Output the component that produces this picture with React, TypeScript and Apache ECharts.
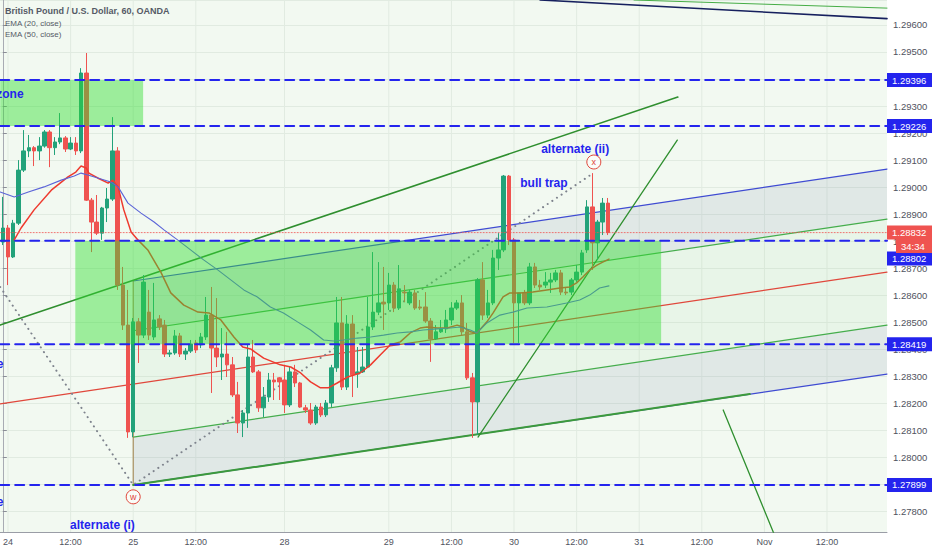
import { useEffect, useRef } from 'react';
import * as echarts from 'echarts';

// hourly slots on the time axis (candles + empty future space)
const slotCount = 170;
const priceTop = 1.29692;
const priceBottom = 1.27725;

// GBPUSD 60m candles: [open, close, low, high]
const candles = [
    [1.28797, 1.28849, 1.28786, 1.28964], [1.28849, 1.28742, 1.28638, 1.2886], [1.28742, 1.28867, 1.28738, 1.28879],
    [1.28867, 1.29063, 1.2886, 1.291], [1.29063, 1.29134, 1.29056, 1.29211], [1.29134, 1.29146, 1.29111, 1.29193],
    [1.29146, 1.29134, 1.29078, 1.29152], [1.29134, 1.29152, 1.291, 1.29185], [1.29152, 1.29204, 1.29146, 1.29211],
    [1.29204, 1.29146, 1.29074, 1.29211], [1.29146, 1.29167, 1.29119, 1.29185], [1.29167, 1.29182, 1.29159, 1.29274],
    [1.29182, 1.29141, 1.2913, 1.29189], [1.29141, 1.29163, 1.29137, 1.29185], [1.29163, 1.29134, 1.29119, 1.29185],
    [1.29134, 1.29422, 1.29126, 1.2944], [1.29422, 1.28952, 1.28949, 1.29496], [1.28952, 1.28871, 1.2876, 1.2896],
    [1.28871, 1.2883, 1.28823, 1.28971], [1.2883, 1.28923, 1.28805, 1.28927], [1.28923, 1.28956, 1.28871, 1.28997],
    [1.28956, 1.29134, 1.28949, 1.29259], [1.29134, 1.28638, 1.2862, 1.29148], [1.28638, 1.2849, 1.28472, 1.28705],
    [1.2849, 1.28095, 1.28073, 1.2862], [1.28095, 1.28502, 1.28076, 1.28516], [1.28502, 1.28453, 1.2835, 1.28516],
    [1.28453, 1.28649, 1.28442, 1.28675], [1.28538, 1.28453, 1.28435, 1.2862], [1.28446, 1.28509, 1.28435, 1.28646],
    [1.28513, 1.28483, 1.28472, 1.28527], [1.2849, 1.28383, 1.28372, 1.28509], [1.28383, 1.28387, 1.28372, 1.28398],
    [1.28387, 1.2845, 1.2838, 1.28472], [1.2845, 1.28383, 1.28372, 1.28461], [1.28383, 1.28394, 1.28361, 1.28405],
    [1.28394, 1.2842, 1.28387, 1.28435], [1.28424, 1.28398, 1.28387, 1.28435], [1.28417, 1.28446, 1.28405, 1.28461],
    [1.28446, 1.28527, 1.28435, 1.28594], [1.28527, 1.28405, 1.28239, 1.28631], [1.28405, 1.28372, 1.28335, 1.2859],
    [1.28372, 1.28383, 1.28287, 1.28479], [1.28383, 1.28343, 1.28298, 1.28465], [1.28343, 1.28232, 1.28224, 1.28372],
    [1.28232, 1.28128, 1.28091, 1.2828], [1.28128, 1.28165, 1.28076, 1.28176], [1.28165, 1.28372, 1.2811, 1.28417],
    [1.28372, 1.28317, 1.28313, 1.28435], [1.28317, 1.28184, 1.28169, 1.28324], [1.28184, 1.28224, 1.2815, 1.28261],
    [1.28224, 1.28287, 1.28206, 1.28313], [1.28287, 1.2828, 1.28213, 1.28313], [1.28295, 1.2828, 1.28213, 1.28298],
    [1.28287, 1.28195, 1.28165, 1.28343], [1.28195, 1.28317, 1.28187, 1.28335], [1.28317, 1.28276, 1.28261, 1.28343],
    [1.28276, 1.28187, 1.28184, 1.2828], [1.28184, 1.28176, 1.28165, 1.28195], [1.28176, 1.28128, 1.28121, 1.28202],
    [1.28128, 1.28187, 1.28121, 1.28195], [1.28187, 1.28158, 1.2815, 1.28202], [1.28158, 1.28202, 1.2815, 1.28213],
    [1.28202, 1.28332, 1.28187, 1.28343], [1.28332, 1.28498, 1.28317, 1.28594], [1.28498, 1.28261, 1.2825, 1.28594],
    [1.28261, 1.28494, 1.2825, 1.28527], [1.28494, 1.28306, 1.28224, 1.28527], [1.28309, 1.28317, 1.28258, 1.28409],
    [1.28317, 1.28335, 1.28313, 1.28409], [1.28335, 1.28483, 1.28332, 1.28594], [1.28483, 1.28538, 1.28472, 1.2876],
    [1.28538, 1.28572, 1.28527, 1.28723], [1.28575, 1.28568, 1.28472, 1.28705], [1.28572, 1.28638, 1.28546, 1.28683],
    [1.28638, 1.28553, 1.28538, 1.28649], [1.28553, 1.28624, 1.28546, 1.28712], [1.28612, 1.28609, 1.28575, 1.28638],
    [1.28572, 1.28612, 1.28564, 1.2862], [1.28609, 1.28553, 1.28546, 1.2862], [1.28557, 1.28553, 1.28546, 1.28583],
    [1.28557, 1.28505, 1.28498, 1.28612], [1.28505, 1.28439, 1.28354, 1.28516], [1.28439, 1.28465, 1.28435, 1.2849],
    [1.28465, 1.28476, 1.28461, 1.28509], [1.28476, 1.28509, 1.28461, 1.28546], [1.28509, 1.28553, 1.2849, 1.28575],
    [1.28553, 1.28572, 1.28546, 1.28583], [1.28572, 1.28465, 1.28453, 1.28601], [1.28465, 1.28295, 1.28287, 1.28498],
    [1.28295, 1.28206, 1.28073, 1.28313], [1.28206, 1.28657, 1.28084, 1.28664], [1.28657, 1.28527, 1.28509, 1.28723],
    [1.28527, 1.28572, 1.28516, 1.2862], [1.28572, 1.28738, 1.28564, 1.28768], [1.28738, 1.28768, 1.28694, 1.2883],
    [1.28768, 1.29041, 1.2876, 1.29045], [1.29041, 1.28805, 1.28786, 1.29045], [1.28805, 1.28572, 1.28424, 1.28812],
    [1.28572, 1.28609, 1.28424, 1.28609], [1.28609, 1.28572, 1.28564, 1.2862], [1.28572, 1.28705, 1.28564, 1.2872],
    [1.28705, 1.28638, 1.28627, 1.2872], [1.28638, 1.28631, 1.2862, 1.28657], [1.28638, 1.28649, 1.28627, 1.28686],
    [1.28649, 1.28657, 1.28609, 1.28683], [1.28657, 1.28683, 1.28649, 1.28694], [1.28683, 1.28612, 1.28601, 1.28694],
    [1.28612, 1.28609, 1.28601, 1.28631], [1.28612, 1.28657, 1.28601, 1.28664], [1.28657, 1.28686, 1.28649, 1.28712],
    [1.28686, 1.28757, 1.28675, 1.28768], [1.28768, 1.28927, 1.28757, 1.28952], [1.28927, 1.28794, 1.28694, 1.29052],
    [1.28794, 1.28871, 1.28731, 1.28879], [1.28871, 1.28941, 1.28823, 1.2896], [1.28941, 1.28832, 1.28823, 1.2896],
];

const tickIndex = [1, 13, 25, 37, 54, 74, 86, 98, 110, 122, 134, 146, 158];
const tickText = ['24', '12:00', '25', '12:00', '28', '29', '12:00', '30', '12:00', '31', '12:00', 'Nov', '12:00'];

// [slot, price]
const ema20 = [
    [2.2, 1.28805], [3.5, 1.28849], [6, 1.28916], [9.3, 1.28989], [12.5, 1.29038], [14, 1.29056], [15, 1.29078],
    [16, 1.29071], [16.5, 1.29052], [18.2, 1.29034], [20.2, 1.29015], [21.1, 1.29026], [22.1, 1.29001], [23.2, 1.28916],
    [24.6, 1.28834], [25.9, 1.28805], [27.8, 1.28768], [29.7, 1.28705], [30.3, 1.28686], [32.2, 1.28609], [34.7, 1.28564],
    [37.4, 1.28538], [39.5, 1.28535], [41.8, 1.28509], [44.3, 1.28446], [46, 1.28409], [47.5, 1.28402], [50, 1.28368],
    [53.2, 1.28343], [55.2, 1.28335], [57.1, 1.28313], [59, 1.2828], [60.9, 1.28258], [62.4, 1.28258], [64.1, 1.28276],
    [66.1, 1.28298], [68.5, 1.28313], [70.5, 1.28343], [72.4, 1.2838], [74.3, 1.28417], [76.2, 1.28428], [78.1, 1.28461],
    [80, 1.28479], [81.3, 1.28483], [83.3, 1.28479], [85.2, 1.28479], [87.1, 1.2849], [88.2, 1.28483], [89.6, 1.28465],
    [90.9, 1.28461], [92.8, 1.28502], [94, 1.28535], [95.9, 1.28594], [97.2, 1.28609], [99.1, 1.28609], [101.6, 1.28612],
    [104.3, 1.2862], [106.8, 1.28627], [108.7, 1.28631], [110, 1.28646], [111.2, 1.28668], [112.5, 1.28694],
    [113.9, 1.28712], [115, 1.28723], [116.2, 1.28734],
];
const ema50 = [
    [-0.5, 1.28982], [2.2, 1.28964], [4.9, 1.28982], [7.9, 1.29001], [11.2, 1.29026], [13.7, 1.29041], [15, 1.29052],
    [16.3, 1.29045], [18.2, 1.29034], [20.7, 1.29019], [22.1, 1.29001], [24, 1.28941], [26.5, 1.28904], [29, 1.28871],
    [30.9, 1.28842], [33.5, 1.28805], [36, 1.28768], [38.5, 1.28731], [41.2, 1.28694], [43.7, 1.28657], [46.2, 1.2862],
    [48.8, 1.28594], [51.3, 1.28557], [53.8, 1.28535], [56.5, 1.28502], [59, 1.28472], [61.5, 1.28435], [63.4, 1.28431],
    [65.3, 1.28435], [68, 1.28442], [70.5, 1.28446], [73, 1.28453], [75.6, 1.28461], [78.1, 1.28465], [80.6, 1.28472],
    [83.3, 1.28476], [85.8, 1.28479], [87.7, 1.28483], [89.6, 1.28472], [90.9, 1.28461], [92.8, 1.28498], [95.3, 1.28527],
    [97.8, 1.28538], [100.5, 1.28553], [104.3, 1.28557], [108.1, 1.28572], [110.6, 1.28583], [112.5, 1.28601],
    [114.4, 1.28627], [116.2, 1.28635],
];

const levels = [1.29396, 1.29226, 1.28802, 1.28419, 1.27899];
const lastPrice = 1.28832;
const countdown = '34:34';

// parallel channel, drawn from the w low to the right edge
const channelEnds = [25, 169.5];
const channelTop = [1.28653, 1.29067];
const channelUpper = [1.28469, 1.28882];
const channelMedian = [1.28199, 1.28686]; // median extends to the left edge
const channelLower = [1.28076, 1.2849];
const channelBottom = [1.27899, 1.28309];

// zones: [slotFrom, slotTo, priceLow, priceHigh]
const upperZone = [-0.5, 26.9, 1.29226, 1.29396];
const lowerZone = [13.9, 126.2, 1.28419, 1.28802];

const risingLine = [[-0.5, 1.2849], [129.4, 1.29333]];
const steepLine = [[91.1, 1.28076], [129.3, 1.29174]];
const supportLine = [[25, 1.27899], [143.2, 1.28235]];
const fallingLine = [[138.1, 1.28176], [149.5, 1.2764]];
const topNavyLine = [[103, 1.29692], [169.5, 1.29623]];
const topGreenLine = [[121, 1.29692], [169.5, 1.29662]];
const waveDots = [[-0.5, 1.28631], [25, 1.27899], [113.2, 1.29052]];

const notes = ['zone', 'zone', 'zone', 'bull trap', 'alternate (ii)', 'alternate (i)'];
const noteAlign = ['left', 'right', 'right', 'left', 'left', 'left'];
const noteSlot = [-1.26, 0.1, 0.1, 99.2, 103.2, 12.9];
const notePrice = [1.29344, 1.28346, 1.27836, 1.29015, 1.29141, 1.27751];

const waveMarks = ['x', 'w'];
const waveSlot = [113.3, 25];
const wavePrice = [1.29093, 1.27855];

const UP = '#22a27a';
const DOWN = '#ef5350';
const BLUE = '#2424ee';
const FONT = '"Liberation Sans", Arial, sans-serif';

const lineSeries = (data: number[][], color: string, width: number, z: number, type: any = 'solid') => ({
    type: 'line',
    xAxisIndex: 1,
    yAxisIndex: 0,
    data,
    symbol: 'none',
    silent: true,
    animation: false,
    clip: true,
    z,
    lineStyle: { color, width, type, cap: 'round' },
});

const bandSeries = (upper: number[], lower: number[], fill: string, z: number) => ({
    type: 'custom',
    xAxisIndex: 1,
    yAxisIndex: 0,
    silent: true,
    z,
    data: [[channelEnds[0], upper[0]]],
    renderItem: (_params: any, api: any) => ({
        type: 'polygon',
        shape: {
            points: [
                api.coord([channelEnds[0], upper[0]]),
                api.coord([channelEnds[1], upper[1]]),
                api.coord([channelEnds[1], lower[1]]),
                api.coord([channelEnds[0], lower[0]]),
            ],
        },
        style: { fill },
    }),
});

const zoneSeries = (zone: number[]) => ({
    type: 'custom',
    xAxisIndex: 1,
    yAxisIndex: 0,
    silent: true,
    z: 6,
    data: [zone],
    renderItem: (_params: any, api: any) => {
        const a = api.coord([api.value(0), api.value(3)]);
        const b = api.coord([api.value(1), api.value(2)]);
        return {
            type: 'rect',
            shape: { x: a[0], y: a[1], width: b[0] - a[0], height: b[1] - a[1] },
            style: { fill: 'rgba(50, 222, 50, 0.45)' },
        };
    },
});

const App: React.FC = () => {
    const chartRef = useRef<HTMLDivElement>(null);

    useEffect(() => {
        if (!chartRef.current) return;
        const chart = echarts.init(chartRef.current, null, { renderer: 'svg' });

        const median = [[-0.5, channelMedian[0]], [channelEnds[1], channelMedian[1]]];
        const edge = (p: number[]) => [[channelEnds[0], p[0]], [channelEnds[1], p[1]]];

        const option: any = {
            animation: false,
            backgroundColor: '#ffffff',
            textStyle: { fontFamily: FONT },
            grid: {
                left: 0, right: 45, top: 0, bottom: 18,
                show: true, backgroundColor: '#f2f9f1', borderWidth: 0,
            },
            xAxis: [
                {
                    type: 'category',
                    data: Array.from({ length: slotCount }, (_, i) => String(i)),
                    boundaryGap: true,
                    axisLine: { lineStyle: { color: '#9a9da6' } },
                    axisTick: { show: false },
                    splitLine: { show: false },
                    axisLabel: {
                        interval: (index: number) => tickIndex.includes(index),
                        formatter: (_v: string, index: number) => tickText[tickIndex.indexOf(index)] ?? '',
                        color: '#50535e',
                        fontSize: 9,
                        margin: 5,
                        fontFamily: FONT,
                    },
                },
                { type: 'value', min: -0.5, max: slotCount - 0.5, show: false },
            ],
            yAxis: {
                type: 'value',
                position: 'right',
                min: priceBottom,
                max: priceTop,
                splitNumber: 20,
                scale: true,
                axisLine: { show: true, lineStyle: { color: '#a8abb3' } },
                axisTick: { show: true, length: 4, lineStyle: { color: '#8a8d96' } },
                splitLine: { show: true, lineStyle: { color: '#e1ebe1' } },
                axisLabel: {
                    formatter: (v: number) => v.toFixed(5),
                    color: '#50535e',
                    fontSize: 9.5,
                    margin: 6,
                    showMinLabel: false,
                    showMaxLabel: false,
                    fontFamily: FONT,
                },
            },
            series: [
                {
                    type: 'custom',
                    xAxisIndex: 1,
                    yAxisIndex: 0,
                    silent: true,
                    z: 1,
                    data: tickIndex.map((i) => [i, priceTop]),
                    renderItem: (_p: any, api: any) => {
                        const a = api.coord([api.value(0), priceTop]);
                        const b = api.coord([api.value(0), priceBottom]);
                        return {
                            type: 'line',
                            shape: { x1: a[0], y1: a[1], x2: b[0], y2: b[1] },
                            style: { stroke: '#e1ebe1', lineWidth: 1 },
                        };
                    },
                },
                bandSeries(channelTop, channelUpper, 'rgba(105, 120, 165, 0.13)', 1),
                bandSeries(channelUpper, channelLower, 'rgba(120, 200, 110, 0.07)', 1),
                bandSeries(channelLower, channelBottom, 'rgba(105, 120, 165, 0.13)', 1),
                lineSeries(edge(channelTop), '#3f4bd2', 1.2, 2),
                lineSeries(edge(channelUpper), '#45ad4c', 1.2, 2),
                lineSeries(median, '#e0473b', 1.2, 2),
                lineSeries(edge(channelLower), '#45ad4c', 1.2, 2),
                lineSeries(edge(channelBottom), '#3f4bd2', 1.2, 2),
                lineSeries([[channelEnds[0], channelTop[0]], [channelEnds[0], channelBottom[0]]], '#a08048', 1, 2),
                lineSeries(supportLine, '#3c9a3c', 2, 2),
                lineSeries(risingLine, '#2f8f2f', 1.6, 2),
                lineSeries(steepLine, '#2f8f2f', 1.3, 2),
                lineSeries(fallingLine, '#2f8f2f', 1.3, 2),
                lineSeries(topNavyLine, '#16205e', 1.6, 2),
                lineSeries(topGreenLine, '#46ad46', 1, 2),
                lineSeries(waveDots, '#7d828c', 2, 3, [0.1, 5.5]),
                {
                    type: 'candlestick',
                    xAxisIndex: 0,
                    yAxisIndex: 0,
                    data: candles,
                    barWidth: 4,
                    z: 4,
                    silent: true,
                    clip: true,
                    itemStyle: { color: UP, color0: DOWN, borderColor: UP, borderColor0: DOWN, borderWidth: 1 },
                },
                lineSeries(ema20, '#ee3a2e', 1.5, 5),
                lineSeries(ema50, '#5b64d8', 1.1, 5),
                zoneSeries(upperZone),
                zoneSeries(lowerZone),
                ...levels.map((p) => lineSeries([[-0.5, p], [slotCount - 0.5, p]], BLUE, 2, 7, [9, 6])),
                lineSeries([[-0.5, lastPrice], [slotCount - 0.5, lastPrice]], 'rgba(239, 83, 80, 0.8)', 1, 7, [1, 2]),
                {
                    type: 'custom',
                    xAxisIndex: 1,
                    yAxisIndex: 0,
                    silent: true,
                    z: 8,
                    data: notes.map((_t, i) => [noteSlot[i], notePrice[i]]),
                    renderItem: (params: any, api: any) => {
                        const c = api.coord([api.value(0), api.value(1)]);
                        const align = noteAlign[params.dataIndex];
                        return {
                            type: 'text',
                            x: c[0],
                            y: c[1],
                            style: {
                                text: notes[params.dataIndex],
                                fill: BLUE,
                                font: `bold 12px ${FONT}`,
                                align, verticalAlign: 'middle',
                                textAlign: align, textVerticalAlign: 'middle',
                            },
                        };
                    },
                },
                {
                    type: 'custom',
                    xAxisIndex: 1,
                    yAxisIndex: 0,
                    silent: true,
                    z: 8,
                    data: waveMarks.map((_t, i) => [waveSlot[i], wavePrice[i]]),
                    renderItem: (params: any, api: any) => {
                        const c = api.coord([api.value(0), api.value(1)]);
                        return {
                            type: 'group',
                            children: [
                                {
                                    type: 'circle',
                                    shape: { cx: c[0], cy: c[1], r: 7 },
                                    style: { fill: 'rgba(255,255,255,0.6)', stroke: '#e0463a', lineWidth: 1 },
                                },
                                {
                                    type: 'text',
                                    x: c[0],
                                    y: c[1],
                                    style: {
                                        text: waveMarks[params.dataIndex],
                                        fill: '#e0463a',
                                        font: `9px ${FONT}`,
                                        align: 'center', verticalAlign: 'middle',
                                        textAlign: 'center', textVerticalAlign: 'middle',
                                    },
                                },
                            ],
                        };
                    },
                },
            ],
        };

        chart.setOption(option);

        // price-axis boxes, placed through the y scale
        const yOf = (p: number) => chart.convertToPixel({ yAxisIndex: 0 }, p) as number;
        const boxX = 887;
        const lastY = yOf(lastPrice);
        const box = (y: number, text: string, fill: string, x = boxX) => [
            { type: 'rect', shape: { x, y: y - 7, width: 932 - x, height: 14 }, style: { fill }, z: 100 },
            {
                type: 'text', x: x + 5, y, z: 101,
                style: { text, fill: '#ffffff', font: `9.5px ${FONT}`, textVerticalAlign: 'middle', verticalAlign: 'middle' },
            },
        ];
        const graphic: any[] = [];
        levels.forEach((p) => {
            let y = yOf(p);
            if (Math.abs(y - lastY) < 24) y = lastY + 26;
            graphic.push(...box(y, p.toFixed(5), BLUE));
        });
        graphic.push(...box(lastY, lastPrice.toFixed(5), DOWN));
        graphic.push(...box(lastY + 13.5, countdown, DOWN, 896));

        const legend = [
            { text: 'British Pound / U.S. Dollar, 60, OANDA', y: 11, font: 'bold 9px' },
            { text: 'EMA (20, close)', y: 23, font: '8px' },
            { text: 'EMA (50, close)', y: 34, font: '8px' },
        ];
        legend.forEach((l) => {
            graphic.push({
                type: 'text', x: 5, y: l.y, z: 101,
                style: {
                    text: l.text, fill: '#555a66',
                    font: `${l.font} ${FONT}`,
                    textVerticalAlign: 'middle', verticalAlign: 'middle',
                },
            });
        });
        chart.setOption({ graphic });

        return () => {
            chart.dispose();
        };
    }, []);

    return (
        <div
            ref={chartRef}
            style={{ position: 'fixed', left: 0, top: 0, width: '932px', height: '550px', background: '#ffffff' }}
        />
    );
};

export default App;
